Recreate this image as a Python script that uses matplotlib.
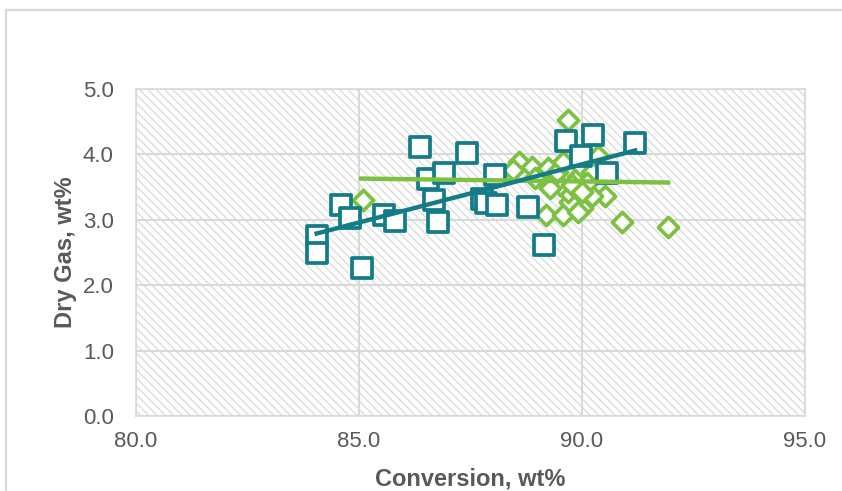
import numpy as np
import matplotlib
matplotlib.use('Agg')
import matplotlib.pyplot as plt
from matplotlib.patches import Rectangle

plt.rcParams['font.family'] = ['Liberation Sans', 'DejaVu Sans']
plt.rcParams['hatch.color'] = '#DADADA'
plt.rcParams['hatch.linewidth'] = 0.9

# teal squares
sq_x = [84.05, 84.05, 84.6, 84.8, 85.07, 85.55, 85.8, 86.37, 86.55, 86.9, 86.68, 86.77,
        87.42, 88.05, 87.76, 87.85, 88.1, 88.8, 89.15, 89.64, 90.25, 89.98, 91.19, 90.56]
sq_y = [2.75, 2.49, 3.22, 3.02, 2.26, 3.07, 2.98, 4.11, 3.63, 3.71, 3.30, 2.96,
        4.02, 3.68, 3.32, 3.25, 3.22, 3.19, 2.61, 4.21, 4.29, 3.98, 4.17, 3.71]

# green diamonds
dm_x = [85.09, 89.69, 90.9, 91.93, 90.52, 88.59, 88.45, 88.88, 88.95, 89.24, 89.33,
        89.2, 89.57, 89.73, 90.0, 89.9, 90.22, 89.69, 89.5, 89.44, 89.57, 89.9, 90.0,
        90.22, 90.25, 90.36, 90.11, 89.78, 89.28, 90.0]
dm_y = [3.31, 4.53, 2.96, 2.89, 3.37, 3.88, 3.76, 3.81, 3.64, 3.79, 3.57,
        3.07, 3.07, 3.27, 3.18, 3.12, 3.37, 3.42, 3.53, 3.73, 3.88, 3.65, 3.80,
        3.73, 4.03, 3.98, 3.56, 3.53, 3.48, 3.42]

# linear trend lines (end points)
sq_trend_x = [84.05, 91.19]
sq_trend_y = [2.79, 4.06]
dm_trend_x = [85.05, 91.93]
dm_trend_y = [3.63, 3.57]

teal = '#137C87'
green = '#7CC142'
grey_txt = '#595959'
grid_c = '#D9D9D9'

fig = plt.figure(figsize=(8.42, 4.91), dpi=100)
ax = fig.add_axes([136/842, 1-416/491, (805-136)/842, (416-89)/491])

# outer chart frame (cropped on right and bottom)
fig.patches.append(Rectangle((6/842, -0.2), 1.2, 1.2 - 10/491, transform=fig.transFigure,
                             fill=False, edgecolor='#D9D9D9', lw=1.6, zorder=0))

ax.add_patch(Rectangle((0, 0), 1, 1, transform=ax.transAxes, facecolor='white',
                       edgecolor='#DADADA', hatch='\\\\\\\\', lw=0, zorder=0))

ax.scatter(dm_x, dm_y, marker='D', s=105, facecolor='white', edgecolor=green, linewidth=2.7, zorder=2)
ax.scatter(sq_x, sq_y, marker='s', s=210, facecolor='white', edgecolor=teal, linewidth=2.7, zorder=3)

ax.plot(dm_trend_x, dm_trend_y, color=green, lw=3.2, zorder=4)
ax.plot(sq_trend_x, sq_trend_y, color=teal, lw=3.2, zorder=5)

ax.set_xlim(80, 95)
ax.set_ylim(0, 5)
ax.set_xticks([80, 85, 90, 95])
ax.set_yticks([0, 1, 2, 3, 4, 5])
ax.xaxis.set_major_formatter(plt.FormatStrFormatter('%.1f'))
ax.yaxis.set_major_formatter(plt.FormatStrFormatter('%.1f'))
ax.tick_params(length=0, labelsize=16, colors=grey_txt)
ax.tick_params(axis='y', pad=16)
ax.tick_params(axis='x', pad=11)
ax.grid(True, color=grid_c, lw=1.5, zorder=1)
ax.set_axisbelow(True)
for s in ax.spines.values():
    s.set_color(grid_c)
    s.set_linewidth(1.2)

ax.set_xlabel('Conversion, wt%', fontsize=17, fontweight='bold', color=grey_txt, labelpad=11)
ax.set_ylabel('Dry Gas, wt%', fontsize=17, fontweight='bold', color=grey_txt, labelpad=4)

fig.savefig('out.png', dpi=100)
